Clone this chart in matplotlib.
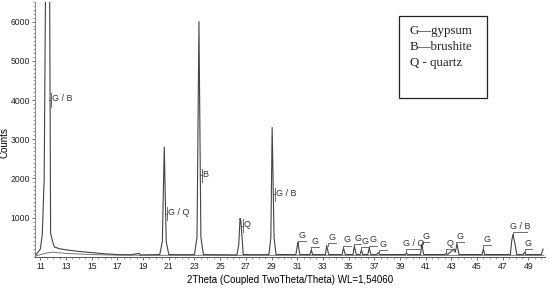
import matplotlib.pyplot as plt
from matplotlib.ticker import MultipleLocator
from matplotlib.patches import Rectangle

# measured trace, 2theta vs counts (peaks above 6500 are clipped)
two_theta = [10.6, 11.0, 11.15, 11.3, 11.45, 11.7, 11.8, 11.95, 12.1, 12.5, 13.0, 14.0, 15.0, 16.0, 17.0, 18.0,
             18.7, 18.8, 19.5, 20.3, 20.5, 20.65, 20.8, 21.0, 22.0, 23.0, 23.2, 23.35, 23.5, 23.7, 25.0, 26.3,
             26.45, 26.55, 26.62, 26.8, 28.0, 28.8, 28.95, 29.05, 29.2, 29.35, 30.2, 30.9, 31.05, 31.2, 32.0,
             32.1, 32.2, 33.2, 33.3, 33.45, 34.5, 34.6, 34.75, 35.35, 35.45, 35.6, 35.9, 36.0, 36.1, 36.5, 36.6,
             36.75, 37.2, 37.3, 37.45, 38.5, 39.4, 39.5, 39.6, 40.6, 40.7, 40.85, 41.8, 42.5, 42.6, 42.7, 43.2,
             43.3, 43.45, 43.6, 44.5, 45.4, 45.5, 45.6, 46.5, 47.6, 47.7, 47.8, 47.95, 48.1, 48.6, 48.7, 48.8,
             49.6, 50.0, 50.15]
counts = [30, 200, 560, 2000, 9000, 9000, 600, 400, 250, 210, 180, 140, 110, 80, 60, 55,
          90, 50, 55, 60, 400, 2800, 400, 60, 55, 60, 500, 6000, 500, 60, 55, 50,
          300, 980, 900, 60, 55, 60, 500, 3300, 500, 60, 60, 60, 380, 60, 60,
          180, 60, 60, 290, 60, 60, 230, 60, 60, 280, 60, 60, 180, 60, 60, 220,
          60, 60, 110, 60, 60, 60, 100, 60, 60, 320, 60, 60, 60, 90, 60, 200,
          120, 320, 60, 60, 60, 200, 60, 60, 60, 400, 570, 350, 60, 60, 120, 60,
          60, 60, 200]

# background trace
bg_theta = [10.6, 11.0, 11.5, 12.0, 13.0, 15.0, 17.0, 20.0, 30.0, 40.0, 50.2]
bg_counts = [20, 60, 100, 120, 90, 60, 45, 40, 40, 40, 40]

# phase labels on small peaks: position, line height, label
small_x = [31.1, 32.1, 33.4, 34.6, 35.4, 36.0, 36.6, 37.4, 39.5, 40.7, 42.6, 43.4, 45.5, 47.8, 48.7]
small_y = [410, 250, 350, 290, 320, 260, 290, 180, 200, 380, 200, 380, 300, 640, 200]
small_lab = ['G', 'G', 'G', 'G', 'G', 'G', 'G', 'G', 'G / Q', 'G', 'Q', 'G', 'G', 'G / B', 'G']

# phase labels on big peaks
big_x = [11.65, 20.7, 23.4, 26.6, 29.1]
big_y = [4000, 1100, 2080, 800, 1600]
big_lab = ['G / B', 'G / Q', 'B', 'Q', 'G / B']

fig = plt.figure(figsize=(5.5, 2.89), dpi=100)
ax = fig.add_axes([0.064, 0.111, 0.927, 0.882])
ax.plot(bg_theta, bg_counts, color='#777777', lw=0.7)
ax.plot(two_theta, counts, color='#444444', lw=0.8)

gc = '#555555'
for x, y, lab in zip(small_x, small_y, small_lab):
    w = 0.35 + 0.25 * len(lab.replace(' ', ''))
    ax.plot([x, x, x + w], [y - 80, y, y], color=gc, lw=0.6)
    ax.text(x + w / 2, y + 30, lab, ha='center', va='bottom', fontsize=6.5,
            family='Liberation Sans', color='#333333')
for x, y, lab in zip(big_x, big_y, big_lab):
    xb = x + 0.15
    ax.plot([x, xb], [y, y], color=gc, lw=0.6)
    ax.plot([xb, xb], [y - 170, y + 170], color=gc, lw=0.6)
    ax.text(xb + 0.08, y + 30, lab, ha='left', va='center', fontsize=6.5,
            family='Liberation Sans', color='#333333')

ax.set_xlim(10.6, 50.3)
ax.set_ylim(0, 6500)
ax.set_xticks(range(11, 50, 2))
ax.set_yticks(range(1000, 6001, 1000))
ax.xaxis.set_minor_locator(MultipleLocator(0.5))
ax.yaxis.set_minor_locator(MultipleLocator(100))
ax.tick_params(labelsize=6.2, length=2.5, width=0.6, color='#555555', pad=1.2, labelcolor='#222222')
ax.tick_params(which='minor', length=1.2, width=0.5, color='#777777')
for lab in ax.get_xticklabels() + ax.get_yticklabels():
    lab.set_family('Liberation Sans')
for s in ['top', 'right']:
    ax.spines[s].set_visible(False)
ax.spines['left'].set_color('#777777')
ax.spines['left'].set_linewidth(0.6)
ax.spines['bottom'].set_color('#555555')
ax.spines['bottom'].set_linewidth(0.7)
ax.set_ylabel('Counts', fontsize=7, family='Liberation Sans', labelpad=1)
ax.yaxis.set_label_coords(-0.05, 0.45)
ax.set_xlabel('2Theta (Coupled TwoTheta/Theta) WL=1,54060', fontsize=7,
              family='Liberation Sans', labelpad=3)

# legend box
fig.patches.append(Rectangle((399 / 550, 1 - 98 / 289), 88 / 550, 82 / 289, transform=fig.transFigure,
                             fill=False, ec='#222222', lw=0.9))
for i, t in enumerate(['G\u2014gypsum', 'B\u2014brushite', 'Q - quartz']):
    fig.text(410 / 550, 1 - (31 + 16 * i) / 289, t, fontsize=9.3, family='Liberation Serif',
             va='center', ha='left', color='#222222')

fig.savefig('out.png', dpi=100)
